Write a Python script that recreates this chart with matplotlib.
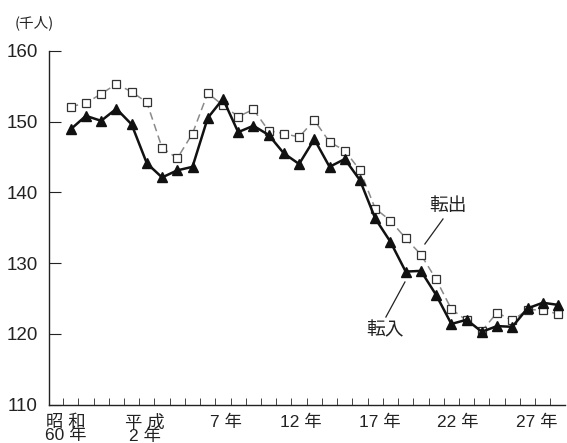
import matplotlib
matplotlib.use("Agg")
import matplotlib.pyplot as plt
import matplotlib.transforms as mtransforms

plt.rcParams["font.family"] = ["Liberation Sans Narrow", "Liberation Sans", "Noto Sans CJK JP"]

# 昭和60年 (1985) to 平成29年 (2017), one value per year, in thousands
years = list(range(33))
tennyu = [148.9, 150.8, 150.1, 151.8, 149.6, 144.1, 142.1, 143.1, 143.6, 150.5,
          153.2, 148.5, 149.4, 148.1, 145.5, 144.0, 147.5, 143.6, 144.7, 141.7,
          136.3, 133.0, 128.8, 128.9, 125.5, 121.4, 122.0, 120.3, 121.1, 121.0,
          123.6, 124.4, 124.1]
tenshutsu = [152.1, 152.6, 153.9, 155.3, 154.2, 152.7, 146.3, 144.8, 148.3, 154.0,
             152.3, 150.7, 151.7, 148.7, 148.3, 147.8, 150.2, 147.1, 145.9, 143.1,
             137.7, 136.0, 133.5, 131.2, 127.7, 123.5, 121.9, 120.4, 123.0, 121.9,
             123.4, 123.4, 122.8]

year_labels = ["昭 和\n60 年", "平 成\n2 年", "7 年", "12 年", "17 年", "22 年", "27 年"]
label_index = [0, 5, 10, 15, 20, 25, 30]
y_ticks = [110, 120, 130, 140, 150, 160]

fig = plt.figure(figsize=(5.67, 4.43), dpi=100)
ax = fig.add_axes([0.0864, 0.0865, 0.910, 0.799])

ax.plot(years, tenshutsu, linestyle=(0, (5, 3)), color="#8a8a8a", linewidth=1.1,
        marker="s", markersize=6.2, markerfacecolor="white",
        markeredgecolor="#333333", markeredgewidth=0.9, zorder=2)
ax.plot(years, tennyu, linestyle="-", color="#111111", linewidth=1.8,
        marker="^", markersize=7.5, markerfacecolor="#111111",
        markeredgecolor="#111111", zorder=3)

ax.set_xlim(-1.425, 32.46)
ax.set_ylim(110, 160)

for side in ["top", "right"]:
    ax.spines[side].set_visible(False)
for side in ["left", "bottom"]:
    ax.spines[side].set_linewidth(1.0)
    ax.spines[side].set_color("#222222")

ax.set_yticks(y_ticks)
ax.tick_params(axis="y", direction="in", length=8.6, width=0.8, colors="#222222",
               labelsize=13.5, pad=8.2, labelcolor="#222222")
ax.set_xticks([i - 0.5 for i in years])
ax.set_xticklabels([])
ax.tick_params(axis="x", direction="in", length=5, width=0.7, colors="#444444")

# year labels under the axis
offsets = [-0.35, -0.15, 0.2, 0.1, 0.3, 0.4, 0.6]
trans = mtransforms.blended_transform_factory(ax.transData, ax.transAxes)
for idx, lab, off in zip(label_index, year_labels, offsets):
    ax.text(idx + off, -0.027, lab, transform=trans, ha="center", va="top",
            fontsize=12.5, linespacing=0.85, color="#222222", clip_on=False)

# series labels with leader lines
ax.plot([24.45, 23.26], [136.23, 132.70], color="#222222", linewidth=0.9)
ax.text(24.77, 138.2, "転出", ha="center", va="center", fontsize=13.5,
        color="#222222", family=["Noto Sans CJK JP"])
ax.plot([21.95, 20.70], [127.33, 122.38], color="#222222", linewidth=0.9)
ax.text(20.64, 120.55, "転入", ha="center", va="center", fontsize=13.5,
        color="#222222", family=["Noto Sans CJK JP"])

fig.text(0.061, 0.948, "(千人)", ha="center", va="center", fontsize=10.5,
         color="#222222", family=["Noto Sans CJK JP"])

fig.savefig("out.png", dpi=100)
